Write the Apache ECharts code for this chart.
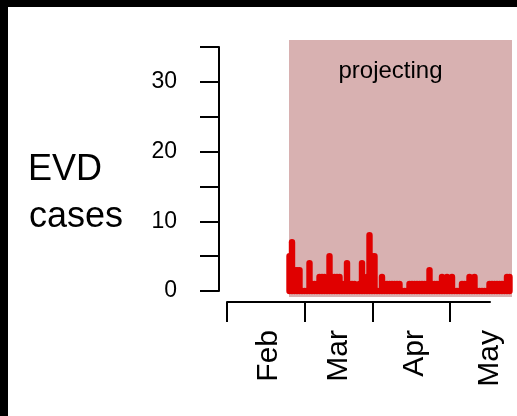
<!DOCTYPE html>
<html>
<head>
<meta charset="utf-8">
<script src="https://cdn.jsdelivr.net/npm/echarts@6/dist/echarts.min.js"></script>
<style>
  html, body { margin: 0; padding: 0; background: #fff; }
  #chart { width: 517px; height: 416px; }
</style>
</head>
<body>
<div id="chart"></div>
<script>
// Daily EVD case counts over the projection window (day index, count)
const firstDay = 25;
const dailyCases = [
  5, 7, 3, 3, 3, 0, 0, 0, 4, 1,
  1, 1, 2, 2, 2, 0, 5, 2, 2, 2,
  2, 1, 1, 4, 1, 1, 1, 0, 1, 4,
  1, 2, 8, 5, 5, 0, 0, 2, 1, 1,
  1, 1, 1, 1, 1, 0, 0, 0, 1, 1,
  1, 1, 1, 1, 1, 1, 3, 1, 1, 1,
  1, 2, 1, 2, 1, 2, 0, 0, 0, 1,
  1, 1, 2, 1, 2, 0, 0, 0, 0, 0,
  1, 1, 1, 1, 1, 1, 1, 2, 2
];

// Month axis: tick days and label days (day 0 = start of the axis)
const monthTickDays = [0, 31, 58.4, 89.2];
const monthLabelDays = [16.8, 44.8, 75, 105];
const monthNames = ['Feb', 'Mar', 'Apr', 'May'];

// Shaded projection window
const projectStart = 24.8;
const projectLabel = 'projecting';

// Y axis
const yMin = 0, yMax = 35, yStep = 5, yLabelStep = 10;

const dayMaxData = 114;     // extent of the plotting region
const dayMaxAxis = 105.2;   // extent of the drawn x axis line

const points = dailyCases.map((v, i) => [firstDay + i, v]);

const FONT = "'Liberation Sans', Arial, Helvetica, sans-serif";
const pxPerUnit = 244 / 35;
const BAR_W = 6.4;

const chart = echarts.init(document.getElementById('chart'), null, { renderer: 'canvas' });

chart.setOption({
  backgroundColor: '#ffffff',
  animation: false,
  textStyle: { fontFamily: FONT },
  grid: [
    // plotting region
    { left: 227, top: 40, width: 285, height: 257, containLabel: false },
    // y axis frame
    { left: 219, top: 47, width: 1, height: 244, containLabel: false },
    // x axis frame
    { left: 227, top: 300, width: 263, height: 2, containLabel: false }
  ],
  xAxis: [
    { gridIndex: 0, type: 'value', min: 0, max: dayMaxData, show: false },
    { gridIndex: 1, type: 'value', min: 0, max: 1, show: false },
    {
      gridIndex: 2, type: 'value', min: 0, max: dayMaxAxis, position: 'bottom',
      axisLine: { show: true, lineStyle: { color: '#000', width: 2 } },
      axisTick: { show: true, customValues: monthTickDays, length: 20, inside: false,
                  lineStyle: { color: '#000', width: 2 } },
      axisLabel: {
        show: true, customValues: monthLabelDays, rotate: 90, margin: 28,
        color: '#000', fontSize: 30, fontFamily: FONT,
        formatter: (v) => {
          const i = monthLabelDays.indexOf(v);
          return i >= 0 ? monthNames[i] : '';
        }
      },
      splitLine: { show: false }
    }
  ],
  yAxis: [
    { gridIndex: 0, type: 'value', min: -6 / pxPerUnit, max: 251 / pxPerUnit, show: false },
    {
      gridIndex: 1, type: 'value', min: yMin, max: yMax, interval: yStep, position: 'left',
      axisLine: { show: true, lineStyle: { color: '#000', width: 2 } },
      axisTick: { show: true, length: 19, inside: false, lineStyle: { color: '#000', width: 2 } },
      axisLabel: {
        show: true, margin: 42, color: '#000', fontSize: 23, fontFamily: FONT,
        formatter: (v) => (v % yLabelStep === 0 ? String(v) : '')
      },
      splitLine: { show: false }
    },
    { gridIndex: 2, type: 'value', show: false }
  ],
  series: [
    {
      type: 'custom',
      xAxisIndex: 0,
      yAxisIndex: 0,
      clip: false,
      data: points,
      // each day is a thick vertical stroke with rounded ends, from 0 up to the count
      renderItem: (params, api) => {
        const x = api.value(0);
        const p0 = api.coord([x, 0]);
        const p1 = api.coord([x, api.value(1)]);
        const h = BAR_W / 2;
        return {
          type: 'rect',
          shape: { x: p0[0] - h, y: p1[1] - h, width: BAR_W, height: (p0[1] - p1[1]) + BAR_W, r: h },
          style: { fill: '#e00000' }
        };
      },
      markArea: {
        silent: true,
        itemStyle: { color: '#d8b1b1', opacity: 1 },
        label: {
          show: true, position: 'insideTop', distance: 19, offset: [-10, 0],
          color: '#000', fontSize: 24, fontFamily: FONT,
          formatter: projectLabel
        },
        data: [[{ xAxis: projectStart }, { xAxis: dayMaxData }]]
      },
      z: 3
    }
  ],
  graphic: [
    { type: 'text', x: 28, y: 170,
      style: { text: 'EVD', fill: '#000', font: '36px ' + FONT, textAlign: 'left', textVerticalAlign: 'middle' } },
    { type: 'text', x: 29, y: 217,
      style: { text: 'cases', fill: '#000', font: '36px ' + FONT, textAlign: 'left', textVerticalAlign: 'middle' } },
    { type: 'rect', shape: { x: 0, y: 0, width: 517, height: 7 }, style: { fill: '#000' }, z: 100 },
    { type: 'rect', shape: { x: 0, y: 0, width: 8, height: 416 }, style: { fill: '#000' }, z: 100 }
  ]
});
</script>
</body>
</html>
